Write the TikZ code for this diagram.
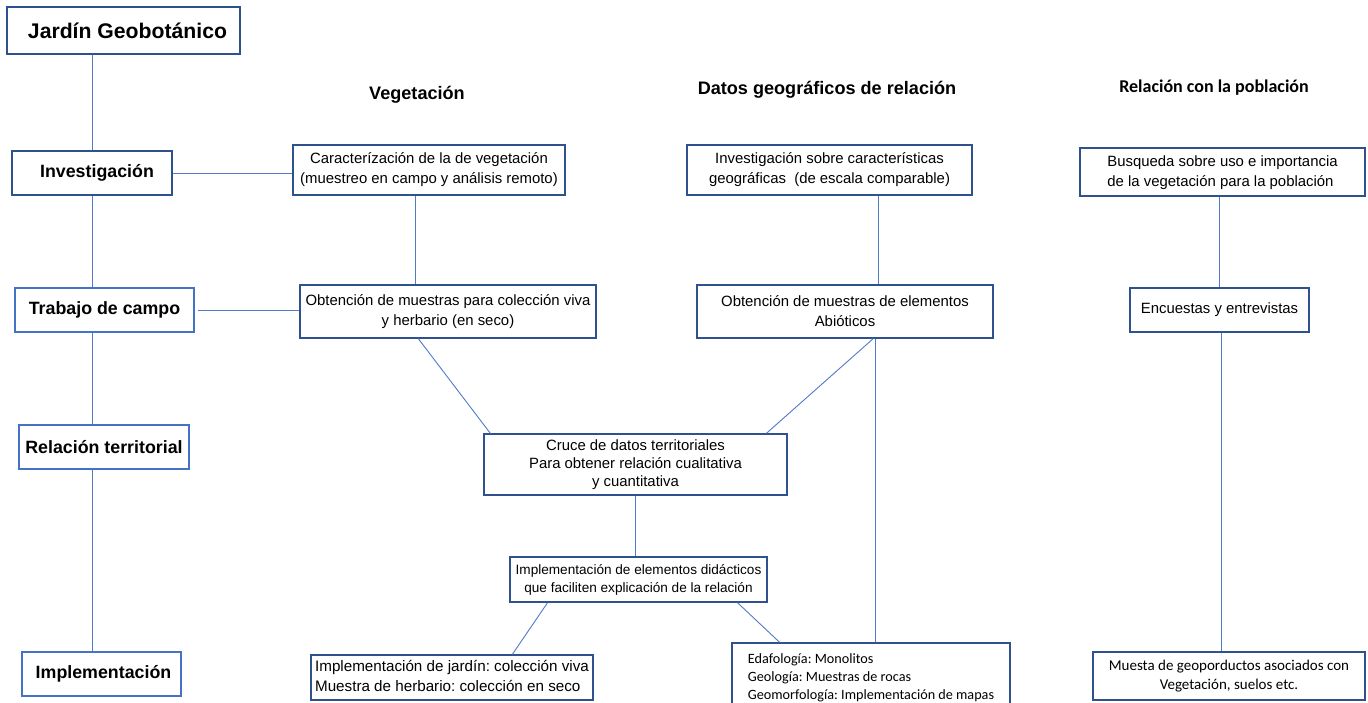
\documentclass[tikz,border=0pt]{standalone}
\usepackage{fontspec}
\setmainfont{Liberation Sans}
\newfontfamily\calfont{Carlito}
\usetikzlibrary{calc}
\frenchspacing
\definecolor{boxc}{HTML}{2F528F}
\definecolor{boxl}{HTML}{4472C4}
\definecolor{linec}{HTML}{4F7BC8}
\tikzset{
  box/.style={draw=boxc, line width=1.2pt, inner sep=0pt, align=center, fill=white},
  lbox/.style={box, draw=boxl},
  ln/.style={draw=linec, line width=0.9pt},
  big/.style={font=\bfseries\fontsize{21.2}{25}\selectfont},
  side/.style={font=\bfseries\fontsize{17.8}{21}\selectfont},
  head/.style={font=\bfseries\fontsize{18.1}{21}\selectfont},
  txt/.style={font=\frenchspacing\fontsize{14.9}{20}\selectfont},
  ttxt/.style={font=\frenchspacing\fontsize{14.9}{18}\selectfont},
  stxt/.style={font=\frenchspacing\fontsize{13.6}{18}\selectfont},
  ctxt/.style={font=\frenchspacing\calfont\fontsize{14.2}{18}\selectfont},
}
\begin{document}
\begin{tikzpicture}[x=1pt,y=-1pt]
\useasboundingbox (0,0) rectangle (1368,702);
\clip (0,0) rectangle (1368,702);
% left column
\node[box,big,minimum width=233pt,minimum height=47pt] (jardin) at (123.5,30.5) {\hspace*{8pt}Jardín Geobotánico};
\node[box,side,minimum width=160pt,minimum height=44pt] (inv) at (92,173) {\hspace*{10pt}Investigación};
\node[lbox,side,minimum width=179pt,minimum height=44pt] (trab) at (104.5,310) {Trabajo de campo};
\node[lbox,side,minimum width=170pt,minimum height=44pt] (rel) at (104,447) {Relación territorial};
\node[lbox,side,minimum width=159pt,minimum height=44pt] (impl) at (101.5,674) {\hspace*{4pt}Implementación};
% headers
\node[head] (hveg) at (417,95) {Vegetación};
\node[head] (hgeo) at (827,90) {Datos geográficos de relación};
\node[font=\calfont\bfseries\fontsize{18}{21}\selectfont] (hpob) at (1214,88) {Relación con la población};
% vegetation column
\node[box,txt,minimum width=272pt,minimum height=50pt] (car) at (429,170) {Caracterízación de la de vegetación\\(muestreo en campo y análisis remoto)};
\node[box,txt,minimum width=296pt,minimum height=53pt] (obt) at (448,311.5) {Obtención de muestras para colección viva\\y herbario (en seco)};
% geo column
\node[box,txt,minimum width=285pt,minimum height=50pt] (geo) at (829.5,170) {Investigación sobre características\\geográficas\ \ (de escala comparable)};
\node[box,txt,minimum width=296pt,minimum height=53pt] (abio) at (845,311.5) {Obtención de muestras de elementos\\Abióticos};
% population column
\node[box,txt,minimum width=285pt,minimum height=48pt] (bus) at (1222.5,172) {\begin{tabular}{@{}l@{}}Busqueda sobre uso e importancia\\de la vegetación para la población\end{tabular}};
\node[box,txt,minimum width=179pt,minimum height=44pt] (enc) at (1219.5,310) {Encuestas y entrevistas};
\node[box,font=\calfont\fontsize{15}{19}\selectfont,minimum width=272pt,minimum height=48pt] (mues) at (1229,676) {Muesta de geoporductos asociados con\\Vegetación, suelos etc.};
% center
\node[box,ttxt,minimum width=303pt,minimum height=61pt] (cruce) at (635.5,464.5) {Cruce de datos territoriales\\Para obtener relación cualitativa\\y cuantitativa};
\node[box,stxt,minimum width=257pt,minimum height=45pt] (did) at (638.5,579.5) {Implementación de elementos didácticos\\que faciliten explicación de la relación};
\node[box,font=\frenchspacing\fontsize{15.2}{20}\selectfont,minimum width=282pt,minimum height=45pt] (jard) at (452,677.5) {\begin{tabular}{@{}l@{}}Implementación de jardín: colección viva\\Muestra de herbario: colección en seco\end{tabular}};
\node[box,ctxt,minimum width=278pt,minimum height=69pt] (edaf) at (871,677.5) {\begin{tabular}{@{}l@{}}Edafología: Monolitos\\Geología: Muestras de rocas\\Geomorfología: Implementación de mapas\end{tabular}};
% connectors left column
\draw[ln] (jardin.south -| inv.north) -- (inv.north);
\draw[ln] (inv.south) -- (inv.south |- trab.north);
\draw[ln] (inv.south |- trab.south) -- (inv.south |- rel.north);
\draw[ln] (inv.south |- rel.south) -- (inv.south |- impl.north);
\draw[ln] (inv.east) -- (inv.east -| car.west);
\draw[ln] ([xshift=3pt]trab.east) -- (trab.east -| obt.west);
% vegetation
\coordinate (c1) at ($(car.south west)!0.449!(car.south east)$);
\draw[ln] (c1) -- (c1 |- obt.north);
\draw[ln] ($(obt.south west)!0.4!(obt.south east)$) -- ($(cruce.north west)!0.023!(cruce.north east)$);
% geo
\coordinate (c2) at ($(geo.south west)!0.67!(geo.south east)$);
\draw[ln] (c2) -- (c2 |- abio.north);
\draw[ln] ($(abio.south west)!0.595!(abio.south east)$) -- ($(cruce.north west)!0.93!(cruce.north east)$);
\coordinate (c3) at ($(abio.south west)!0.601!(abio.south east)$);
\draw[ln] (c3) -- (c3 |- edaf.north);
% population
\draw[ln] (bus.south -| enc.north) -- (enc.north);
\coordinate (c4) at ([xshift=1.5pt]enc.south);
\draw[ln] (c4) -- (c4 |- mues.north);
% center
\draw[ln] (cruce.south) -- (cruce.south |- did.north);
\draw[ln] ($(did.south west)!0.148!(did.south east)$) -- ($(jard.north west)!0.713!(jard.north east)$);
\draw[ln] ($(did.south west)!0.883!(did.south east)$) -- ($(edaf.north west)!0.173!(edaf.north east)$);
\end{tikzpicture}
\end{document}
